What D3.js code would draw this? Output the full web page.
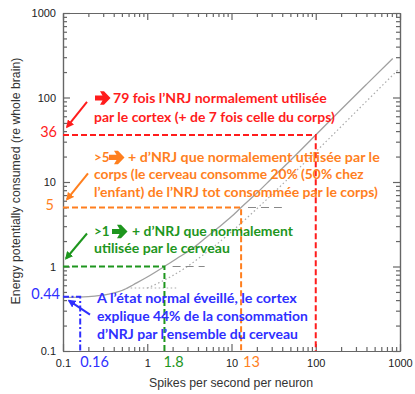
<!DOCTYPE html>
<html>
<head>
<meta charset="utf-8">
<script src="https://cdn.jsdelivr.net/npm/d3@7"></script>
<style>
  body { margin: 0; background: #fff; }
  svg { display: block; }
  .axis text { font-family: "Liberation Sans", Arial, sans-serif; font-size: 11px; fill: #222; }
  .axis path, .axis line { stroke: #666; stroke-width: 1.2; }
  .note { font-family: Lato, "Open Sans", sans-serif; font-weight: bold; font-size: 13.5px; }
  .val { font-family: Lato, "Open Sans", sans-serif; font-size: 14.5px; }
  .title { font-family: "Liberation Sans", Arial, sans-serif; font-size: 12.3px; fill: #333; }
</style>
</head>
<body>
<svg id="chart" width="415" height="394"></svg>
<script>
// decade ticks on both axes
const decadeTicks = [0.1, 1, 10, 100, 1000];
const decadeLabels = ["0.1", "1", "10", "100", "1000"];

// solid curve
const rateSolid   = [0.1, 0.2, 0.35, 0.5, 0.75, 1, 1.6, 2.5, 3.5, 5, 7, 10, 13, 20, 30, 50, 100, 200, 400, 820];
const energySolid = [0.43, 0.44, 0.47, 0.52, 0.64, 0.75, 1, 1.33, 1.65, 2.2, 2.9, 3.9, 5, 7.4, 11, 18, 36, 72, 143, 290];

// dotted curve
const rateDotted   = [1, 1.5, 2, 3, 4.2, 6, 10, 20, 50, 100, 200, 400, 940];
const energyDotted = [0.555, 0.67, 0.78, 1.0, 1.28, 1.68, 2.58, 4.83, 11.6, 22.8, 45.3, 90.3, 211];

// bits of grey reference lines still visible between the notes
const refDashRates  = [[2.0, 4.8], [15.7, 39.6]];
const refDashEnergy = [1, 5];
const refDotRates   = [0.57, 2.3];
const refDotEnergy  = 0.557;

// highlighted points: red, orange, green, blue
const markRates        = [100, 13, 1.6, 0.16];
const markEnergy       = [36, 5, 1, 0.44];
const markRateLabels   = ["", "13", "1.8", "0.16"];
const markEnergyLabels = ["36", "5", "", "0.44"];

// notes text
const notePrefix = ["", ">5", ">1", null];
const noteLines = [
  ["79 fois l’NRJ normalement utilisée",
   "par le cortex (+ de 7 fois celle du corps)"],
  ["+ d’NRJ que normalement utilisée par le",
   "corps (le cerveau consomme 20% (50% chez",
   "l’enfant) de l’NRJ tot consommée par le corps)"],
  ["+ d’NRJ que normalement",
   "utilisée par le cerveau"],
  ["A l’état normal éveillé,  le cortex",
   "explique 44% de la consommation",
   "d’NRJ par l’ensemble du cerveau"]
];

// styles
const colors = ["#ff1c1c", "#ff7f1e", "#1e961e", "#2f2fff"];
const dashes = ["6,3", "6,3", "6,3", "6,2.5,2,2.5"];
// layout of the notes (pixels, relative to the marker line)
const noteLayout = [
  { dy: [-37, -18], x: 94, prefixX: 94, glyphX: 95, textX: 113, widths: [214, 241] },
  { dy: [-50, -33, -15], x: 94, prefixX: 94, glyphX: 109, textX: 128, widths: [252, 270, 284] },
  { dy: [-35, -18], x: 94, prefixX: 94, glyphX: 112, textX: 132, widths: [161, 136] },
  { dy: [2, 20, 38], x: 97, widths: [200, 211, 201] }
];
const pointer = [
  { from: [24, -33], to: [4, -8] },
  { from: [25, -34], to: [4, -8] },
  { from: [24, -33], to: [3, -8] },
  { from: [27, 18], to: [6, 4] }
];

const svg = d3.select("#chart");
const x = d3.scaleLog().domain([0.1, 1000]).range([63, 400]);
const y = d3.scaleLog().domain([0.1, 1000]).range([351, 13]);

// minor ticks 2..9 in each decade
const minorTicks = [];
decadeTicks.slice(0, -1).forEach(d => { for (let k = 2; k < 10; k++) minorTicks.push(d * k); });

// arrow heads
const defs = svg.append("defs");
colors.forEach((c, i) => {
  defs.append("marker").attr("id", "head" + i)
    .attr("viewBox", "0 0 10 10").attr("refX", 8).attr("refY", 5)
    .attr("markerWidth", 8).attr("markerHeight", 8)
    .attr("markerUnits", "userSpaceOnUse").attr("orient", "auto")
    .append("path").attr("d", "M0,0 L10,5 L0,10 z").attr("fill", c);
});

// curves
const line = d3.line().x(d => x(d[0])).y(d => y(d[1])).curve(d3.curveMonotoneX);
svg.append("path").attr("d", line(d3.zip(rateSolid, energySolid)))
  .attr("fill", "none").attr("stroke", "#a0a0a0").attr("stroke-width", 1.3);
svg.append("path").attr("d", line(d3.zip(rateDotted, energyDotted)))
  .attr("fill", "none").attr("stroke", "#aaa").attr("stroke-width", 1.2).attr("stroke-dasharray", "1.5,2.5");

// grey reference pieces
refDashRates.forEach((r, i) => {
  svg.append("line").attr("x1", x(r[0])).attr("x2", x(r[1]))
    .attr("y1", y(refDashEnergy[i])).attr("y2", y(refDashEnergy[i]))
    .attr("stroke", "#888").attr("stroke-width", 1.1).attr("stroke-dasharray", "8,5");
});
svg.append("line").attr("x1", x(refDotRates[0])).attr("x2", x(refDotRates[1]))
  .attr("y1", y(refDotEnergy)).attr("y2", y(refDotEnergy))
  .attr("stroke", "#aaa").attr("stroke-width", 1.2).attr("stroke-dasharray", "1.5,2.5");

// axes box with inward ticks
function box(axis, tx, ty, values, size, fmt) {
  return svg.append("g").attr("class", "axis").attr("transform", `translate(${tx},${ty})`)
    .call(axis.tickValues(values).tickSize(size).tickSizeOuter(0).tickPadding(7).tickFormat(fmt));
}
box(d3.axisBottom(x), 0, 351, minorTicks, -4, () => "");
box(d3.axisBottom(x), 0, 351, decadeTicks, -7, (d, i) => decadeLabels[i]).selectAll("text").attr("y", 8);
box(d3.axisTop(x), 0, 13, minorTicks, -4, () => "");
box(d3.axisTop(x), 0, 13, decadeTicks, -7, () => "");
box(d3.axisLeft(y), 63, 0, minorTicks, -4, () => "");
box(d3.axisLeft(y), 63, 0, decadeTicks, -7, (d, i) => decadeLabels[i]);
box(d3.axisRight(y), 400, 0, minorTicks, -4, () => "");
box(d3.axisRight(y), 400, 0, decadeTicks, -7, () => "");

// highlighted points
const x0 = x(0.1), yBottom = y(0.1);
markRates.forEach((r, i) => {
  svg.append("path")
    .attr("d", `M${x0},${y(markEnergy[i])}H${x(r)}V${yBottom}`)
    .attr("fill", "none").attr("stroke", colors[i]).attr("stroke-width", 2)
    .attr("stroke-dasharray", dashes[i]);
});

// value labels next to the axes
markEnergyLabels.forEach((t, i) => {
  if (!t) return;
  const right = [57, 54, 0, 60][i];
  svg.append("text").attr("class", "val").attr("x", right).attr("y", y(markEnergy[i]) - 3)
    .attr("dy", "0.35em").attr("text-anchor", "end").attr("fill", colors[i]).text(t);
});
markRateLabels.forEach((t, i) => {
  if (!t) return;
  svg.append("text").attr("class", "val").attr("x", x(markRates[i]) + [0, 2, -1, 0][i]).attr("y", 362)
    .attr("dy", "0.35em").attr("fill", colors[i]).text(t);
});

// text squeezed/stretched to the width seen in the picture
function fitText(t, tx, ty, width, color) {
  const el = svg.append("text").attr("class", "note").attr("dy", "0.35em").attr("fill", color).text(t);
  const w = el.node().getComputedTextLength();
  el.attr("transform", `translate(${tx},${ty}) scale(${width / w},1)`);
}
// heavy right arrow glyph
function bigArrow(tx, ty, color) {
  svg.append("path")
    .attr("d", "M0,-2.6H7.5L5,-6.8H9L15.5,0L9,6.8H5L7.5,2.6H0Z")
    .attr("transform", `translate(${tx},${ty})`).attr("fill", color);
}

// notes
noteLines.forEach((lines, i) => {
  const L = noteLayout[i], yy = y(markEnergy[i]);
  lines.forEach((t, j) => {
    let tx = L.x;
    if (j === 0 && notePrefix[i] !== null) {
      if (notePrefix[i]) {
        svg.append("text").attr("class", "note").attr("x", L.prefixX).attr("y", yy + L.dy[0])
          .attr("dy", "0.35em").attr("fill", colors[i]).text(notePrefix[i]);
      }
      bigArrow(L.glyphX, yy + L.dy[0], colors[i]);
      tx = L.textX;
    }
    fitText(t, tx, yy + L.dy[j], L.widths[j], colors[i]);
  });
  // pointer arrow
  const p = pointer[i];
  svg.append("line")
    .attr("x1", x0 + p.from[0]).attr("y1", yy + p.from[1])
    .attr("x2", x0 + p.to[0]).attr("y2", yy + p.to[1])
    .attr("stroke", colors[i]).attr("stroke-width", 2).attr("marker-end", `url(#head${i})`);
});

// axis titles
svg.append("text").attr("class", "title").attr("x", 231).attr("y", 383).attr("dy", "0.35em")
  .attr("text-anchor", "middle").text("Spikes per second per neuron");
svg.append("text").attr("class", "title").attr("transform", "translate(16,181) rotate(-90)")
  .attr("dy", "0.35em").attr("text-anchor", "middle").text("Energy potentially consumed (re whole brain)");
</script>
</body>
</html>
